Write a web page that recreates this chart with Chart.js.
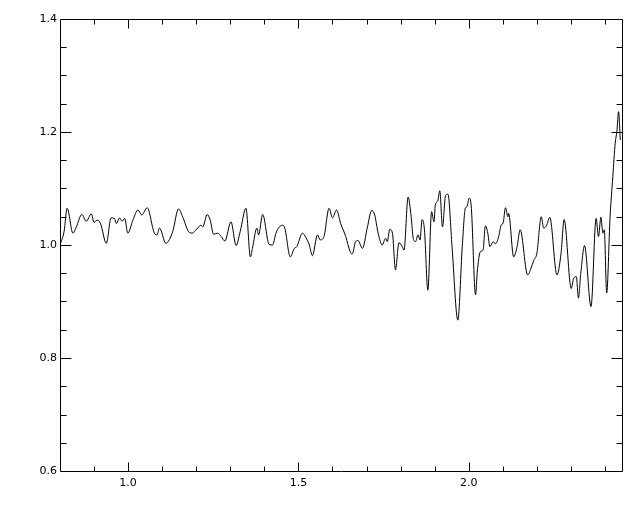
<!DOCTYPE html>
<html>
<head>
<meta charset="utf-8">
<script src="https://cdn.jsdelivr.net/npm/chart.js@4/dist/chart.umd.min.js"></script>
<style>
  html, body { margin: 0; padding: 0; background: #ffffff; }
  #wrap { width: 640px; height: 512px; }
</style>
</head>
<body>
<div id="wrap"><canvas id="c" width="640" height="512"></canvas></div>
<script>
// ---- data ----
const wavelength = [
  0.800, 0.812, 0.821, 0.838, 0.848, 0.864, 0.877, 0.892, 0.900, 0.909,
  0.919, 0.936, 0.950, 0.960, 0.965, 0.975, 0.982, 0.990, 0.999, 1.014,
  1.029, 1.040, 1.056, 1.077, 1.085, 1.092, 1.111, 1.131, 1.148, 1.160,
  1.180, 1.190, 1.196, 1.204, 1.214, 1.219, 1.232, 1.241, 1.251, 1.263,
  1.273, 1.284, 1.302, 1.317, 1.329, 1.346, 1.359, 1.365, 1.378, 1.383,
  1.395, 1.414, 1.424, 1.434, 1.444, 1.453, 1.460, 1.476, 1.488, 1.495,
  1.512, 1.522, 1.532, 1.541, 1.556, 1.564, 1.575, 1.590, 1.600, 1.612,
  1.624, 1.639, 1.652, 1.658, 1.668, 1.675, 1.688, 1.702, 1.715, 1.724,
  1.734, 1.746, 1.756, 1.761, 1.768, 1.776, 1.785, 1.795, 1.805, 1.810,
  1.822, 1.831, 1.837, 1.844, 1.851, 1.857, 1.863, 1.870, 1.880, 1.891,
  1.898, 1.902, 1.909, 1.915, 1.923, 1.932, 1.939, 1.951, 1.968, 1.981,
  1.990, 1.995, 2.001, 2.007, 2.020, 2.025, 2.034, 2.042, 2.049, 2.056,
  2.062, 2.072, 2.078, 2.088, 2.095, 2.101, 2.108, 2.115, 2.117, 2.132,
  2.142, 2.151, 2.173, 2.183, 2.191, 2.200, 2.213, 2.220, 2.228, 2.238,
  2.259, 2.271, 2.280, 2.301, 2.308, 2.316, 2.322, 2.329, 2.340, 2.359,
  2.374, 2.381, 2.388, 2.394, 2.398, 2.405, 2.415, 2.423, 2.430, 2.435,
  2.440, 2.445
];
const flux = [
  1.000, 1.024, 1.065, 1.021, 1.032, 1.054, 1.042, 1.055, 1.040, 1.044,
  1.038, 1.003, 1.048, 1.047, 1.038, 1.048, 1.042, 1.047, 1.021, 1.044,
  1.062, 1.053, 1.066, 1.021, 1.018, 1.030, 1.003, 1.024, 1.064, 1.050,
  1.022, 1.021, 1.025, 1.030, 1.035, 1.032, 1.054, 1.044, 1.019, 1.021,
  1.015, 1.007, 1.041, 0.999, 1.024, 1.065, 0.979, 0.994, 1.030, 1.018,
  1.054, 1.001, 1.000, 1.021, 1.032, 1.035, 1.030, 0.979, 0.994, 0.997,
  1.021, 1.013, 1.000, 0.981, 1.018, 1.009, 1.015, 1.065, 1.048, 1.062,
  1.038, 1.015, 0.988, 0.984, 1.006, 1.008, 0.994, 1.030, 1.061, 1.053,
  1.021, 1.000, 1.012, 1.006, 1.028, 1.021, 0.956, 1.004, 0.997, 0.991,
  1.085, 1.050, 1.012, 1.006, 1.018, 1.009, 1.045, 1.027, 0.920, 1.059,
  1.041, 1.071, 1.078, 1.096, 1.032, 1.088, 1.090, 0.997, 0.867, 0.997,
  1.065, 1.068, 1.083, 1.071, 0.912, 0.952, 0.988, 0.991, 1.034, 1.021,
  0.997, 1.006, 1.002, 1.015, 1.035, 1.039, 1.066, 1.050, 1.056, 0.979,
  0.997, 1.027, 0.947, 0.959, 0.973, 0.985, 1.050, 1.030, 1.034, 1.049,
  0.947, 0.985, 1.045, 0.923, 0.941, 0.944, 0.906, 0.950, 0.999, 0.891,
  1.047, 1.015, 1.049, 1.021, 1.027, 0.915, 1.050, 1.121, 1.180, 1.201,
  1.236, 1.186
];
const xMajorTicks = [1.0, 1.5, 2.0];
const xMinorTicks = [0.9, 1.1, 1.2, 1.3, 1.4, 1.6, 1.7, 1.8, 1.9, 2.1, 2.2, 2.3, 2.4];
const yMajorTicks = [0.6, 0.8, 1.0, 1.2, 1.4];
const yMinorTicks = [0.65, 0.7, 0.75, 0.85, 0.9, 0.95, 1.05, 1.1, 1.15, 1.25, 1.3, 1.35];
const xRange = [0.8, 2.45];
const yRange = [0.6, 1.4];

const points = wavelength.map((w, i) => ({ x: w, y: flux[i] }));

// IDL-style frame with inward ticks on all four sides
const framePlugin = {
  id: 'idlFrame',
  afterDatasetsDraw(chart) {
    const { ctx, chartArea: a, scales } = chart;
    const xs = scales.x, ys = scales.y;
    const L = Math.round(a.left) + 0.5, R = Math.round(a.right) + 0.5;
    const T = Math.round(a.top) + 0.5, B = Math.round(a.bottom) + 0.5;
    ctx.save();
    ctx.strokeStyle = '#000';
    ctx.lineWidth = 1;
    ctx.beginPath();
    ctx.rect(L, T, R - L, B - T);
    const xt = (v, len) => {
      const p = Math.round(xs.getPixelForValue(v)) + 0.5;
      ctx.moveTo(p, B); ctx.lineTo(p, B - len);
      ctx.moveTo(p, T); ctx.lineTo(p, T + len);
    };
    const yt = (v, len) => {
      const p = Math.round(ys.getPixelForValue(v)) + 0.5;
      ctx.moveTo(L, p); ctx.lineTo(L + len, p);
      ctx.moveTo(R, p); ctx.lineTo(R - len, p);
    };
    xMajorTicks.forEach(v => xt(v, 9));
    xMinorTicks.forEach(v => xt(v, 5));
    yMajorTicks.forEach(v => yt(v, 11));
    yMinorTicks.forEach(v => yt(v, 6));
    ctx.stroke();
    ctx.restore();
  }
};

new Chart(document.getElementById('c'), {
  type: 'line',
  data: {
    datasets: [{
      data: points,
      borderColor: '#000',
      borderWidth: 1,
      pointRadius: 0,
      fill: false,
      cubicInterpolationMode: 'monotone'
    }]
  },
  options: {
    responsive: false,
    animation: false,
    events: [],
    layout: { padding: { top: 19, right: 18, left: 0, bottom: 0 } },
    plugins: { legend: { display: false }, tooltip: { enabled: false } },
    scales: {
      x: {
        type: 'linear',
        min: xRange[0], max: xRange[1],
        grid: { display: false, drawTicks: false },
        border: { display: false },
        afterBuildTicks: s => { s.ticks = xMajorTicks.map(v => ({ value: v })); },
        afterFit: s => { s.height = 41; },
        ticks: {
          color: '#000',
          font: { family: 'DejaVu Sans', size: 11 },
          padding: 6,
          maxRotation: 0,
          autoSkip: false,
          callback: v => Number(v).toFixed(1)
        }
      },
      y: {
        type: 'linear',
        min: yRange[0], max: yRange[1],
        grid: { display: false, drawTicks: false },
        border: { display: false },
        afterBuildTicks: s => { s.ticks = yMajorTicks.map(v => ({ value: v })); },
        afterFit: s => { s.width = 60; },
        ticks: {
          color: '#000',
          font: { family: 'DejaVu Sans', size: 11 },
          padding: 3,
          autoSkip: false,
          callback: v => Number(v).toFixed(1)
        }
      }
    }
  },
  plugins: [framePlugin]
});
</script>
</body>
</html>
